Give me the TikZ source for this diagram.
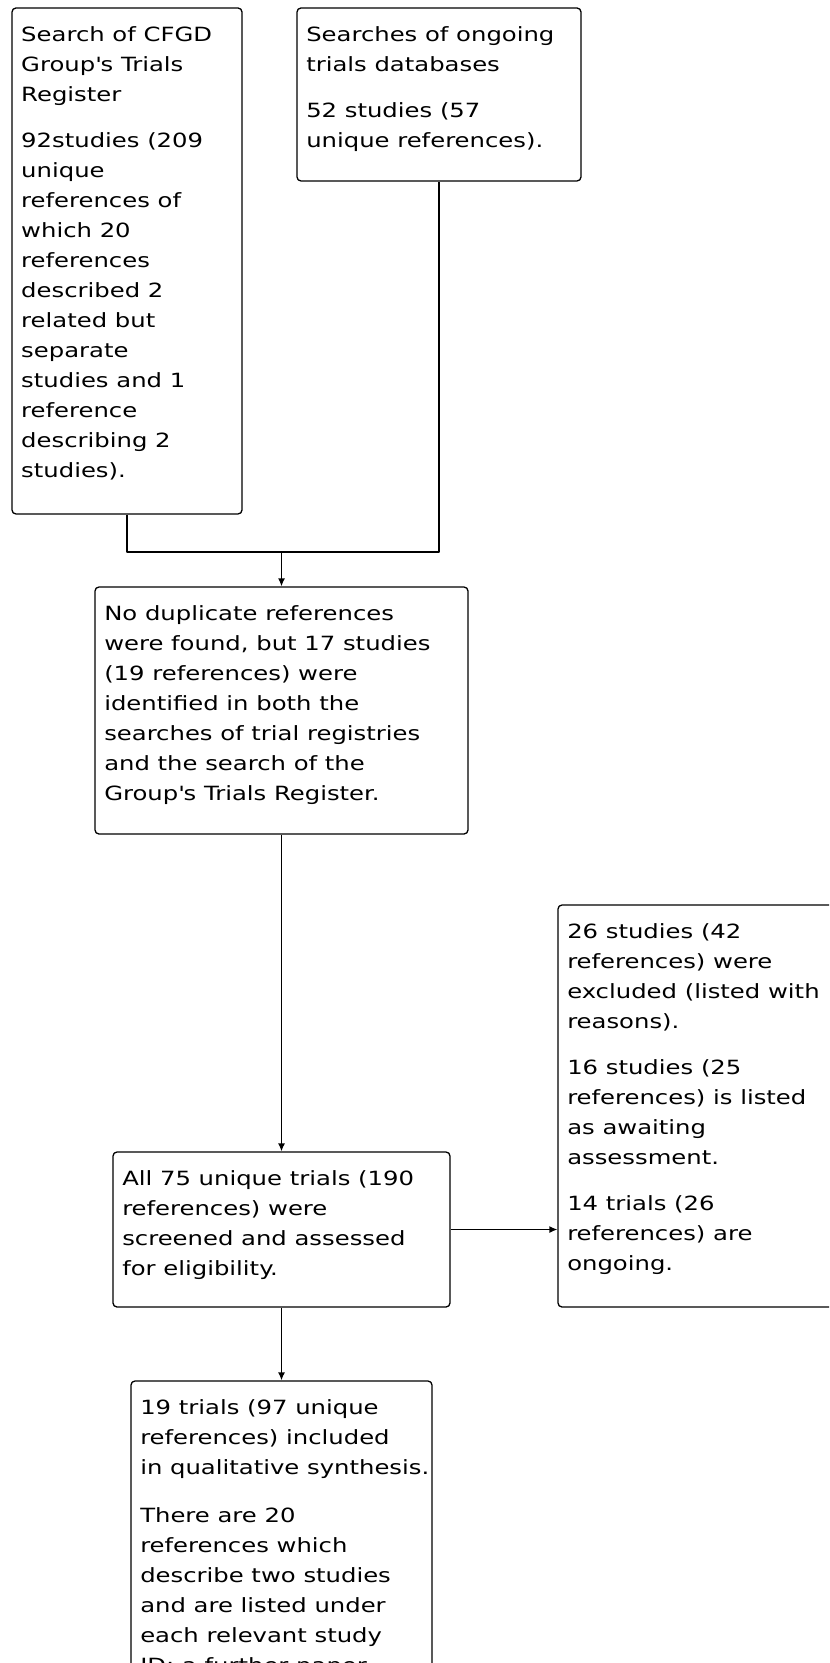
\documentclass[tikz,border=0pt]{standalone}
\usepackage{fontspec}
\setmainfont{DejaVu Sans}[FakeStretch=1.24]
\usetikzlibrary{arrows.meta}

\begin{document}
\begin{tikzpicture}[x=0.5pt, y=-0.5pt, line join=bevel,
        flowbox/.style={shape=rectangle, draw=black, line width=0.65pt, rounded corners=2pt, inner sep=0pt},
        boxtext/.style={anchor=north west, inner sep=0pt, align=left, font=\fontsize{9.8pt}{15pt}\selectfont, execute at begin node=\strut},
        flowarrow/.style={-{Latex[length=4pt, width=3.5pt]}, line width=0.65pt}]
        \useasboundingbox (0, 0) rectangle (829, 1663);
        \clip (0, 0) rectangle (829, 1663);
        % Boxes
        \node[flowbox, minimum width=115pt, minimum height=253pt] (register) at (127, 261) {};
        \node[flowbox, minimum width=142pt, minimum height=86.5pt] (ongoing) at (439, 94.5) {};
        \node[flowbox, minimum width=186.5pt, minimum height=123.5pt] (dedup) at (281.5, 710.5) {};
        \node[flowbox, minimum width=168.5pt, minimum height=77.5pt] (screened) at (281.5, 1229.5) {};
        \node[flowbox, minimum width=138pt, minimum height=201pt] (outcomes) at (696, 1106) {};
        \node[flowbox, minimum width=150.5pt, minimum height=169.5pt] (included) at (281.5, 1550.5) {};
        % Texts
        \node[boxtext] (registertext) at ([xshift=4.75pt, yshift=-9.5pt]register.north west) {Search of CFGD\\Group\textquotesingle s Trials\\Register\\[8pt]92studies (209\\unique\\references of\\which 20\\references\\described 2\\related but\\separate\\studies and 1\\reference\\describing 2\\studies).};
        \node[boxtext] (ongoingtext) at ([xshift=4.75pt, yshift=-9.5pt]ongoing.north west) {Searches of ongoing\\trials databases\\[8pt]52 studies (57\\unique references).};
        \node[boxtext] (deduptext) at ([xshift=4.75pt, yshift=-9.5pt]dedup.north west) {No duplicate references\\were found, but 17 studies\\(19 references) were\\identified in both the\\searches of trial registries\\and the search of the\\Group\textquotesingle s Trials Register.};
        \node[boxtext] (screenedtext) at ([xshift=4.75pt, yshift=-9.5pt]screened.north west) {All 75 unique trials (190\\references) were\\screened and assessed\\for eligibility.};
        \node[boxtext] (outcomestext) at ([xshift=4.75pt, yshift=-9.5pt]outcomes.north west) {26 studies (42\\references) were\\excluded (listed with\\reasons).\\[8pt]16 studies (25\\references) is listed\\as awaiting\\assessment.\\[8pt]14 trials (26\\references) are\\ongoing.};
        \node[boxtext] (includedtext) at ([xshift=4.75pt, yshift=-9.5pt]included.north west) {19 trials (97 unique\\references) included\\in qualitative synthesis.\\[9pt]There are 20\\references which\\describe two studies\\and are listed under\\each relevant study\\ID; a further paper};
        % Connectors
        \coordinate (merge) at (281.5, 552);
        \draw[line width=0.65pt] (register.south) |- (merge) -| (ongoing.south);
        \draw[flowarrow] (merge) -- (dedup.north);
        \draw[flowarrow] (dedup.south) -- (screened.north);
        \draw[flowarrow] (screened.east) -- (screened.east -| outcomes.west);
        \draw[flowarrow] (screened.south) -- (included.north);
\end{tikzpicture}
\end{document}
